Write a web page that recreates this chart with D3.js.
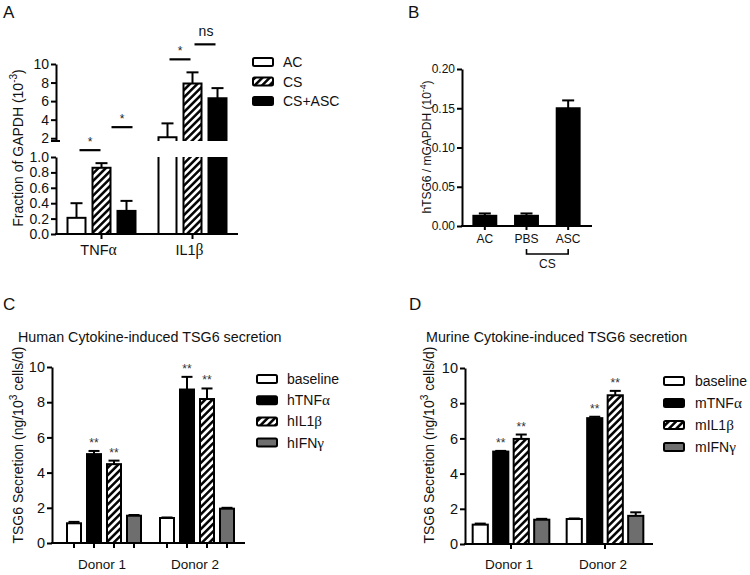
<!DOCTYPE html>
<html><head><meta charset="utf-8">
<script src="https://cdn.jsdelivr.net/npm/d3@7"></script>
<style>body{margin:0;background:#fff} svg{font-family:"Liberation Sans",Arial,sans-serif}</style>
</head><body><svg id="c" width="750" height="575"></svg>
<script>
// ---------- Panel A data ----------
const aGroups = ["TNFα", "IL1β"];
const aSeries = ["AC", "CS", "CS+ASC"];
const aValues = [[0.21, 0.86, 0.30], [2.1, 7.9, 6.3]];
const aErrors = [[0.19, 0.06, 0.13], [1.5, 1.2, 1.1]];
const aLowerTicks = [0, 0.2, 0.4, 0.6, 0.8, 1.0];
const aUpperTicks = [2, 4, 6, 8, 10];
const aSig = [
  {group: 0, from: 0, to: 1, label: "*"},
  {group: 0, from: 1, to: 2, label: "*"},
  {group: 1, from: 0, to: 1, label: "*"},
  {group: 1, from: 1, to: 2, label: "ns"}
];
// ---------- Panel B data ----------
const bCategories = ["AC", "PBS", "ASC"];
const bValues = [0.013, 0.013, 0.150];
const bErrors = [0.003, 0.003, 0.010];
const bTicks = [0, 0.05, 0.10, 0.15, 0.20];
const bBracket = {from: "PBS", to: "ASC", label: "CS"};
// ---------- Panel C data ----------
const cGroups = ["Donor 1", "Donor 2"];
const cSeries = ["baseline", "hTNFα", "hIL1β", "hIFNγ"];
const cValues = [[1.12, 5.05, 4.48, 1.55], [1.42, 8.72, 8.18, 1.95]];
const cErrors = [[0.08, 0.18, 0.2, 0.04], [0.03, 0.72, 0.6, 0.05]];
const cStars = [["", "**", "**", ""], ["", "**", "**", ""]];
const cTicks = [0, 2, 4, 6, 8, 10];
// ---------- Panel D data ----------
const dGroups = ["Donor 1", "Donor 2"];
const dSeries = ["baseline", "mTNFα", "mIL1β", "mIFNγ"];
const dValues = [[1.1, 5.25, 5.97, 1.38], [1.42, 7.15, 8.45, 1.6]];
const dErrors = [[0.06, 0.04, 0.25, 0.05], [0.03, 0.08, 0.25, 0.2]];
const dStars = [["", "**", "**", ""], ["", "**", "**", ""]];
const dTicks = [0, 2, 4, 6, 8, 10];

// ---------- drawing ----------
const svg = d3.select("#c");
svg.append("rect").attr("width", 750).attr("height", 575).attr("fill", "#fff");
const defs = svg.append("defs");
const pat = defs.append("pattern").attr("id", "hatch").attr("patternUnits", "userSpaceOnUse")
  .attr("width", 5.2).attr("height", 5.2).attr("patternTransform", "rotate(45)");
pat.append("rect").attr("width", 5.2).attr("height", 5.2).attr("fill", "#fff");
pat.append("line").attr("x1", 1.3).attr("x2", 1.3).attr("y1", 0).attr("y2", 5.2)
  .attr("stroke", "#000").attr("stroke-width", 2.5);

const FILL = {white: "#fff", black: "#000", hatch: "url(#hatch)", grey: "#6e6e6e"};
const GREEK = /[\u0370-\u03ff]/;

function richText(sel, str, attrs) {
  const t = sel.append("text");
  Object.entries(attrs).forEach(([k, v]) => t.attr(k, v));
  (str.match(/[\u0370-\u03ff]+|[^\u0370-\u03ff]+/g) || []).forEach(p => {
    const ts = t.append("tspan").text(p);
    if (GREEK.test(p)) ts.attr("font-family", "'Liberation Serif','DejaVu Serif',serif").attr("font-size", "1.08em");
  });
  return t;
}
function supLabel(sel, x, y, pre, sup, post, size) {
  const t = sel.append("text").attr("transform", `translate(${x},${y}) rotate(-90)`)
    .attr("text-anchor", "middle").attr("font-size", size).attr("fill", "#111");
  t.append("tspan").text(pre);
  t.append("tspan").attr("dy", -size * 0.4).attr("font-size", size * 0.72).text(sup);
  t.append("tspan").attr("dy", size * 0.4).text(post);
}
function styleAxis(g, fs) {
  g.select(".domain").attr("stroke", "#000").attr("stroke-width", 2);
  g.selectAll(".tick line").attr("stroke", "#000").attr("stroke-width", 2);
  g.selectAll(".tick text").attr("font-size", fs).attr("fill", "#111")
    .attr("font-family", "'Liberation Sans',Arial,sans-serif");
}
function errBar(g, cx, yTop, yErr, cap) {
  g.append("line").attr("x1", cx).attr("x2", cx).attr("y1", yTop).attr("y2", yErr)
    .attr("stroke", "#000").attr("stroke-width", 2);
  g.append("line").attr("x1", cx - cap / 2).attr("x2", cx + cap / 2).attr("y1", yErr).attr("y2", yErr)
    .attr("stroke", "#000").attr("stroke-width", 2);
}
function panelLetter(x, y, s) {
  svg.append("text").attr("x", x).attr("y", y).attr("font-size", 17).attr("fill", "#111").text(s);
}
function legend(g, items, fills, x0, textX, y0, step, fs) {
  items.forEach((s, i) => {
    const cy = y0 + i * step;
    g.append("rect").attr("x", x0).attr("y", cy - 4).attr("width", 20).attr("height", 8).attr("rx", 1.5)
      .attr("fill", FILL[fills[i]]).attr("stroke", "#000").attr("stroke-width", 2);
    richText(g, s, {x: textX, y: cy + 5, "font-size": fs, fill: "#111"});
  });
}

// ===== Panel A =====
(function () {
  const g = svg.append("g");
  panelLetter(3, 18, "A");
  const fills = ["white", "hatch", "black"];
  const x = d3.scaleBand().domain(aGroups).range([56, 238]);
  const xi = d3.scaleBand().domain(aSeries).range([-37.5, 37.5]).paddingInner(0.28).paddingOuter(0.14);
  const yL = d3.scaleLinear().domain([0, 1]).range([234, 157]);
  const yU = d3.scaleLinear().domain([1.7, 10]).range([141, 64]);
  const bw = xi.bandwidth();
  const cx = (gr, s) => x(gr) + x.bandwidth() / 2 + xi(s) + bw / 2;
  aGroups.forEach((gr, gi) => {
    aSeries.forEach((s, si) => {
      const v = aValues[gi][si], e = aErrors[gi][si];
      const x0 = x(gr) + x.bandwidth() / 2 + xi(s);
      if (v <= 1) {
        g.append("rect").attr("x", x0).attr("y", yL(v)).attr("width", bw).attr("height", yL(0) - yL(v))
          .attr("fill", FILL[fills[si]]).attr("stroke", "#000").attr("stroke-width", 2);
        errBar(g, x0 + bw / 2, yL(v), yL(v + e), 12);
      } else {
        g.append("rect").attr("x", x0).attr("y", yL(1)).attr("width", bw).attr("height", yL(0) - yL(1))
          .attr("fill", FILL[fills[si]]);
        g.append("path").attr("d", `M${x0},${yL(1)}V${yL(0)}H${x0 + bw}V${yL(1)}`)
          .attr("fill", "none").attr("stroke", "#000").attr("stroke-width", 2);
        const yb = yU(yU.domain()[0]);
        g.append("rect").attr("x", x0).attr("y", yU(v)).attr("width", bw).attr("height", yb - yU(v))
          .attr("fill", FILL[fills[si]]);
        g.append("path").attr("d", `M${x0},${yb}V${yU(v)}H${x0 + bw}V${yb}`)
          .attr("fill", "none").attr("stroke", "#000").attr("stroke-width", 2);
        errBar(g, x0 + bw / 2, yU(v), yU(v + e), 12);
      }
    });
  });
  const axL = g.append("g").attr("transform", "translate(56,0)")
    .call(d3.axisLeft(yL).tickValues(aLowerTicks).tickFormat(d3.format(".1f")).tickSize(5).tickSizeOuter(0).tickPadding(2));
  styleAxis(axL, 14);
  const axU = g.append("g").attr("transform", "translate(56,0)")
    .call(d3.axisLeft(yU).tickValues(aUpperTicks).tickFormat(d3.format("d")).tickSize(5).tickSizeOuter(0).tickPadding(2));
  styleAxis(axU, 14);
  g.append("line").attr("x1", 51).attr("x2", 60).attr("y1", yU(yU.domain()[0])).attr("y2", yU(yU.domain()[0]))
    .attr("stroke", "#000").attr("stroke-width", 2);
  g.append("line").attr("x1", 55).attr("x2", 238).attr("y1", 234).attr("y2", 234).attr("stroke", "#000").attr("stroke-width", 2);
  aGroups.forEach(gr => {
    const c = x(gr) + x.bandwidth() / 2;
    g.append("line").attr("x1", c).attr("x2", c).attr("y1", 234).attr("y2", 239).attr("stroke", "#000").attr("stroke-width", 2);
    richText(g, gr, {x: c - 3, y: 255, "text-anchor": "middle", "font-size": 14.5, fill: "#111"});
  });
  // significance markers
  const lift = [0, 23, 0, 15];
  const dx = [1, 8, 0, 0];
  aSig.forEach((s, i) => {
    const gr = aGroups[s.group];
    const x1 = cx(gr, aSeries[s.from]) + 2 + dx[i], x2 = cx(gr, aSeries[s.to]) - 2 + dx[i];
    const tops = [s.from, s.to].map(k => {
      const v = aValues[s.group][k] + aErrors[s.group][k];
      return v <= 1 ? yL(v) : yU(v);
    });
    const yy = Math.min(...tops) - 13 - lift[i];
    g.append("line").attr("x1", x1).attr("x2", x2).attr("y1", yy).attr("y2", yy).attr("stroke", "#000").attr("stroke-width", 2.2);
    if (s.label === "ns") {
      g.append("text").attr("x", (x1 + x2) / 2 + 1).attr("y", yy - 8).attr("text-anchor", "middle").attr("font-size", 14).attr("fill", "#111").text("ns");
    } else {
      g.append("text").attr("x", (x1 + x2) / 2).attr("y", yy - 4).attr("text-anchor", "middle").attr("font-size", 12).attr("fill", "#222").text(s.label);
    }
  });
  supLabel(g, 23, 148, "Fraction of GAPDH (10", "-3", ")", 14);
  legend(g, aSeries, fills, 253, 283, 62, 19.5, 14);
})();

// ===== Panel B =====
(function () {
  const g = svg.append("g");
  panelLetter(408, 18, "B");
  const x = d3.scaleBand().domain(bCategories).range([464, 589]).paddingInner(0.45).paddingOuter(0.225);
  const y = d3.scaleLinear().domain([0, 0.2]).range([226, 69]);
  const bw = x.bandwidth();
  bCategories.forEach((c, i) => {
    g.append("rect").attr("x", x(c)).attr("y", y(bValues[i])).attr("width", bw).attr("height", y(0) - y(bValues[i]))
      .attr("fill", "#000").attr("stroke", "#000").attr("stroke-width", 2);
    errBar(g, x(c) + bw / 2, y(bValues[i]), y(bValues[i] + bErrors[i]), 12);
  });
  const ay = g.append("g").attr("transform", "translate(462,0)")
    .call(d3.axisLeft(y).tickValues(bTicks).tickFormat(d3.format(".2f")).tickSize(5).tickSizeOuter(0).tickPadding(2));
  styleAxis(ay, 12);
  const ax = g.append("g").attr("transform", "translate(0,226)")
    .call(d3.axisBottom(x).tickSize(4).tickSizeOuter(0).tickPadding(4));
  ax.select(".domain").attr("d", "M461,0H592");
  styleAxis(ax, 12);
  const xa = x(bBracket.from) + bw / 2, xb = x(bBracket.to) + bw / 2;
  g.append("path").attr("d", `M${xa},249V254H${xb}V249`).attr("fill", "none").attr("stroke", "#000").attr("stroke-width", 1.6);
  g.append("text").attr("x", (xa + xb) / 2).attr("y", 268).attr("text-anchor", "middle").attr("font-size", 12).attr("fill", "#111").text(bBracket.label);
  supLabel(g, 431, 147, "hTSG6 / mGAPDH (10", "-4", ")", 12);
})();

// ===== Panels C & D =====
function grouped(cfg) {
  const g = svg.append("g");
  panelLetter(cfg.letterX, 310, cfg.letter);
  g.append("text").attr("x", cfg.titleX).attr("y", 342).attr("font-size", 14.3).attr("fill", "#111").text(cfg.title);
  const fills = ["white", "black", "hatch", "grey"];
  const x = d3.scaleBand().domain(cfg.groups).range(cfg.groupRange);
  const xi = d3.scaleBand().domain(cfg.series).range([-cfg.half, cfg.half]).paddingInner(cfg.pad).paddingOuter(cfg.pad / 2);
  const y = d3.scaleLinear().domain([0, 10]).range([cfg.y0, cfg.y10]);
  const bw = xi.bandwidth();
  const centers = [];
  cfg.groups.forEach((gr, gi) => {
    cfg.series.forEach((s, si) => {
      const v = cfg.values[gi][si], e = cfg.errors[gi][si];
      const x0 = x(gr) + x.bandwidth() / 2 + xi(s);
      centers.push(x0 + bw / 2);
      g.append("rect").attr("x", x0).attr("y", y(v)).attr("width", bw).attr("height", y(0) - y(v))
        .attr("fill", FILL[fills[si]]).attr("stroke", "#000").attr("stroke-width", 2);
      errBar(g, x0 + bw / 2, y(v), y(v + e), 11);
      if (cfg.stars[gi][si]) {
        g.append("text").attr("x", x0 + bw / 2).attr("y", y(v + e) - 4).attr("text-anchor", "middle")
          .attr("font-size", 12).attr("fill", "#333").text(cfg.stars[gi][si]);
      }
    });
  });
  const ay = g.append("g").attr("transform", `translate(${cfg.axisX},0)`)
    .call(d3.axisLeft(y).tickValues(cfg.ticks).tickFormat(d3.format("d")).tickSize(5).tickSizeOuter(0).tickPadding(2));
  styleAxis(ay, 14.5);
  g.append("line").attr("x1", cfg.axisX - 1).attr("x2", cfg.axisEnd).attr("y1", cfg.y0).attr("y2", cfg.y0).attr("stroke", "#000").attr("stroke-width", 2);
  const tickXs = cfg.tickEachBar ? centers : cfg.groups.map(gr => x(gr) + x.bandwidth() / 2);
  tickXs.forEach(t => g.append("line").attr("x1", t).attr("x2", t).attr("y1", cfg.y0).attr("y2", cfg.y0 + 5).attr("stroke", "#000").attr("stroke-width", 2));
  cfg.groups.forEach(gr => {
    g.append("text").attr("x", x(gr) + x.bandwidth() / 2 - 2).attr("y", 569).attr("text-anchor", "middle")
      .attr("font-size", 13.5).attr("fill", "#111").text(gr);
  });
  supLabel(g, cfg.ylabX, 445, "TSG6 Secretion (ng/10", "3", " cells/d)", 14);
  legend(g, cfg.series, fills, cfg.legX, cfg.legTextX, cfg.legY, cfg.legStep, 14);
}
grouped({letter: "C", letterX: 3, title: "Human Cytokine-induced TSG6 secretion", titleX: 18,
  groups: cGroups, series: cSeries, values: cValues, errors: cErrors, stars: cStars, ticks: cTicks,
  groupRange: [57.5, 243.5], half: 40, pad: 0.3, y0: 543, y10: 367, axisX: 52, axisEnd: 245, tickEachBar: true,
  ylabX: 23, legX: 257, legTextX: 287, legY: 379, legStep: 21.2});
grouped({letter: "D", letterX: 409, title: "Murine Cytokine-induced TSG6 secretion", titleX: 426,
  groups: dGroups, series: dSeries, values: dValues, errors: dErrors, stars: dStars, ticks: dTicks,
  groupRange: [464, 652], half: 41, pad: 0.26, y0: 544, y10: 368, axisX: 465, axisEnd: 653, tickEachBar: false,
  ylabX: 434, legX: 664, legTextX: 695, legY: 381, legStep: 22});
</script></body></html>
